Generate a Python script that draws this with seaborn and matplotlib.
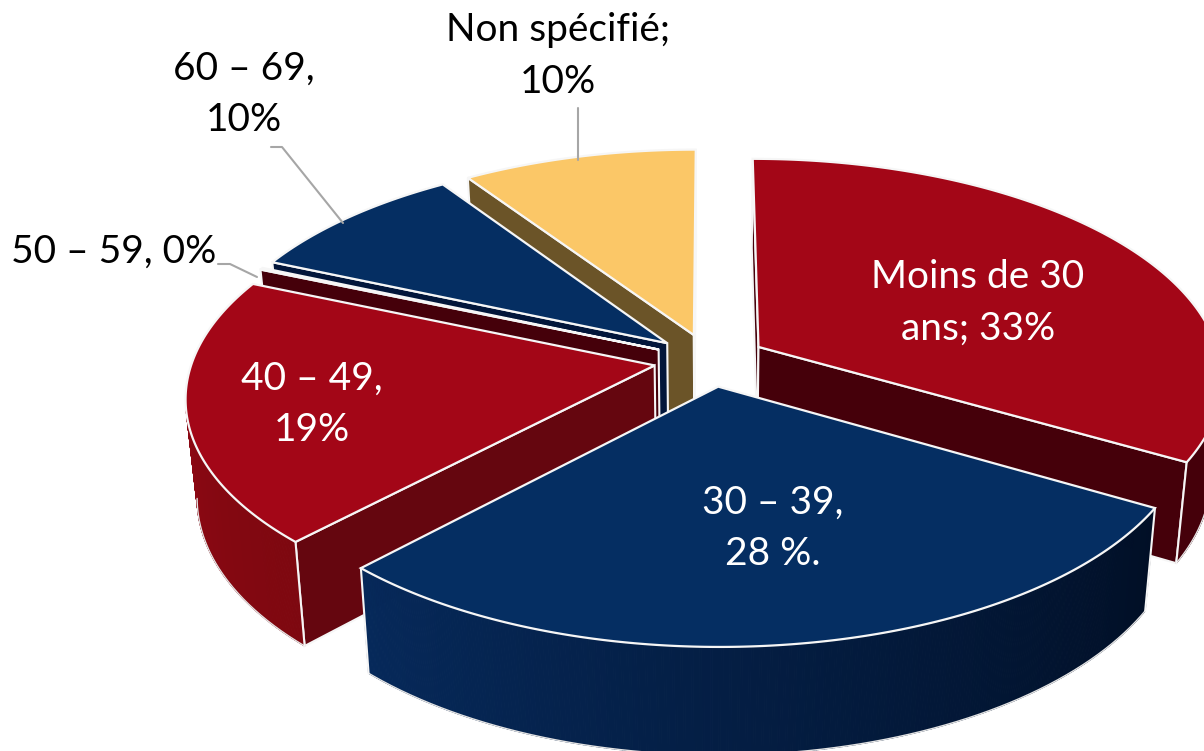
import numpy as np
import matplotlib
matplotlib.use("Agg")
import matplotlib.pyplot as plt
from matplotlib.collections import PolyCollection
from matplotlib.patches import Polygon
import seaborn as sns

categories = ["Moins de 30", "30 – 39", "40 – 49", "50 – 59", "60 – 69", "Non spécifié"]
values = [33.4, 28.63, 19.4, 0.15, 9.03, 9.39]
top_colors = ["#A30617", "#052E62", "#A30617", "#4A0008", "#052E62", "#FBC767"]
cut_colors = ["#45000A", "#02163A", "#65060F", "#45000A", "#02163A", "#6B5428"]
side_left = ["#45000A", "#06295A", "#8C0813", "#4A0008", "#052E62", "#8A6B30"]
side_right = ["#45000A", "#010F26", "#7E0810", "#4A0008", "#02163A", "#6B5428"]
labels = ["Moins de 30\nans; 33%", "30 – 39,\n28 %.", "40 – 49,\n19%",
          "50 – 59, 0%", "60 – 69,\n10%", "Non spécifié;\n10%"]
label_x = [978, 773, 312, 114, 244, 558]
label_y = [303, 528, 404, 252, 94, 56]
label_colors = ["white", "white", "white", "#000000", "#000000", "#000000"]
leader_x = [[218, 230, 257], [271, 282, 343], [578, 578]]
leader_y = [[264, 264, 277], [147, 147, 223], [108, 160]]

CX, CY, RX, RY, PERSP, DEPTH, EXPLODE, SHRINK = 710, 360, 462, 217, 0.136, 97, 0.122, 0.022


def project(x, y, z=0.0):
    w = 1 + PERSP * y
    s = 1 - SHRINK * z
    return CX + RX * x / w * s, CY - RY * y / w * s + DEPTH * z / w


sns.set_theme(style="white")
plt.rcParams["font.family"] = ["Lato", "DejaVu Sans"]
fig = plt.figure(figsize=(12.04, 7.51), dpi=100)
ax = fig.add_axes([0, 0, 1, 1])
ax.set_xlim(0, 1204)
ax.set_ylim(751, 0)
ax.axis("off")

fractions = np.array(values, dtype=float) / np.sum(values)
edges = np.concatenate([[0], np.cumsum(fractions)]) * 2 * np.pi
edge = "#F6F6F6"


def cross(a, b):
    return a[0] * b[1] - a[1] * b[0]


def draw_slice(i, z):
    a0, a1 = edges[i], edges[i + 1]
    mid = (a0 + a1) / 2
    ox, oy = EXPLODE * np.sin(mid), EXPLODE * np.cos(mid)
    t = np.linspace(a0, a1, max(int((a1 - a0) * 200), 3))
    x, y = ox + np.sin(t), oy + np.cos(t)
    # cut faces: only those whose top edge has the slice above it on screen
    apex = np.array(project(ox, oy))
    arc_mid = np.array(project(ox + np.sin(mid), oy + np.cos(mid)))
    for ex, ey in ((x[0], y[0]), (x[-1], y[-1])):
        rim = np.array(project(ex, ey))
        spine = rim - apex
        if np.sign(cross(spine, arc_mid - apex)) != np.sign(cross(spine, (0, 1))):
            f = [project(ox, oy), project(ex, ey), project(ex, ey, 1), project(ox, oy, 1)]
            ax.add_patch(Polygon(f, closed=True, fc=cut_colors[i], ec=edge, lw=1.5, zorder=z))
    # outer wall with gradient: only where it faces the viewer
    sx, sy = project(x, y)
    bx, by = project(x, y, 1)
    keep = np.where(np.diff(sx) < 0)[0]
    if len(keep) > 1:
        first, last = keep[0], keep[-1] + 1
        order = np.argsort(np.argsort(sx[keep]))
        ramp = sns.blend_palette([side_left[i], side_right[i]], len(keep))
        polys = [[(sx[k], sy[k]), (sx[k + 1], sy[k + 1]), (bx[k + 1], by[k + 1]), (bx[k], by[k])] for k in keep]
        cols = [ramp[r] for r in order]
        ax.add_collection(PolyCollection(polys, facecolors=cols, edgecolors=cols, lw=0.8, zorder=z + 0.1))
        ax.plot(bx[first:last + 1], by[first:last + 1], color="#E4E4E4", lw=1.0, zorder=z + 0.2)
        if first == 0:
            ax.plot([sx[0], bx[0]], [sy[0], by[0]], color=edge, lw=1.5, zorder=z + 0.2)
        if last == len(t) - 1:
            ax.plot([sx[-1], bx[-1]], [sy[-1], by[-1]], color=edge, lw=1.5, zorder=z + 0.2)
    # top surface
    top = [project(ox, oy)] + list(zip(sx, sy))
    ax.add_patch(Polygon(top, closed=True, fc=top_colors[i], ec=edge, lw=1.6, zorder=z + 0.3))


# paint back slices first
paint_order = [5, 4, 3, 0, 2, 1]
for rank, i in enumerate(paint_order):
    draw_slice(i, 2 + rank)

for lx, ly in zip(leader_x, leader_y):
    ax.plot(lx, ly, color="#A6A6A6", lw=1.5, zorder=20)

for s, x, y, c in zip(labels, label_x, label_y, label_colors):
    ax.text(x, y, s, color=c, fontsize=28, ha="center", va="center", linespacing=1.53, zorder=30)

fig.savefig("out.png", dpi=100, facecolor="white")
